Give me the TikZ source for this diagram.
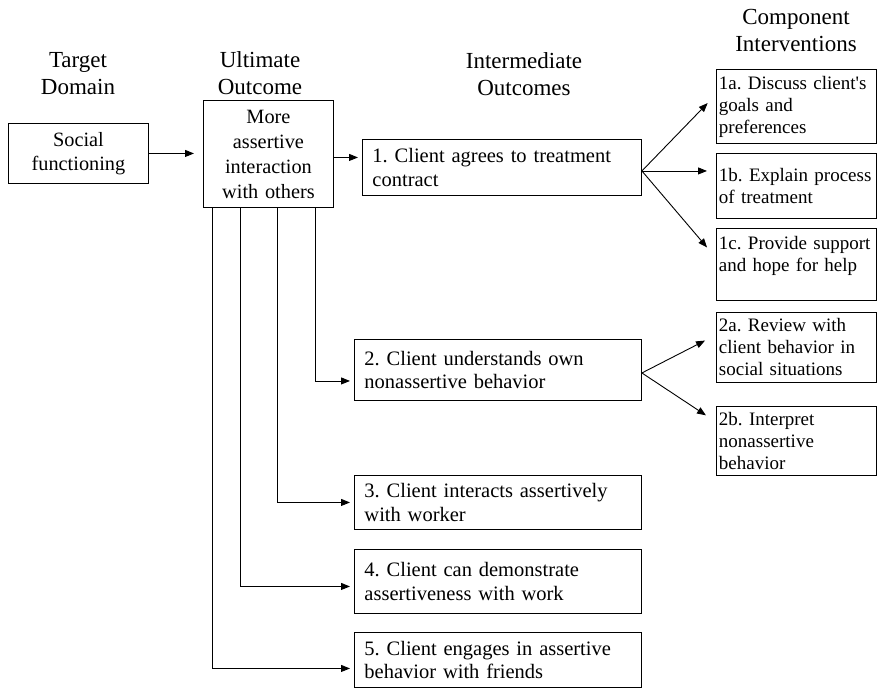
\documentclass[tikz,border=0pt]{standalone}
\usepackage{fontspec}
\setmainfont{Liberation Serif}
\usetikzlibrary{arrows.meta}
\frenchspacing
\begin{document}
\begin{tikzpicture}[x=1pt,y=-1pt,
  every node/.style={inner sep=0pt},
  heading/.style={align=center,font=\fontsize{23}{27}\selectfont},
  frame/.style={draw,line width=0.9pt,anchor=north west,inner ysep=2pt},
  outcome/.style={frame,align=left,inner xsep=10pt,font=\fontsize{20.5}{23.5}\selectfont},
  interv/.style={frame,align=left,inner xsep=2.5pt,text width=155pt,font=\fontsize{19}{22}\selectfont},
  link/.style={line width=0.9pt},
  arrow/.style={link,-{Triangle[length=9pt,width=7pt]},shorten >=4pt}
]
\useasboundingbox (0,0) rectangle (878,689);

% column headings
\node[heading] (hTarget) at (78,73.5) {Target\\Domain};
\node[heading] (hUlt) at (260,73.5) {Ultimate\\Outcome};
\node[heading] (hInter) at (524,74.5) {Intermediate\\Outcomes};
\node[heading] (hComp) at (796,30) {Component\\Interventions};

% target domain and ultimate outcome
\node[frame,align=center,text width=136pt,inner xsep=2pt,minimum height=60pt,
      font=\fontsize{20.3}{23.5}\selectfont] (soc) at (8,123) {Social\\functioning};
\node[frame,align=center,text width=126pt,inner xsep=2pt,minimum height=107pt,
      font=\fontsize{20.3}{25}\selectfont] (ult) at (203,100) {More\\assertive\\interaction\\with others};

% intermediate outcomes
\node[outcome,text width=259pt,minimum height=56pt] (i1) at (362,139)
  {1. Client agrees to treatment\\contract};
\node[outcome,text width=267pt,minimum height=61pt] (i2) at (354,339)
  {2. Client understands own\\nonassertive behavior};
\node[outcome,text width=267pt,minimum height=54pt] (i3) at (354,475)
  {3. Client interacts assertively\\with worker};
\node[outcome,text width=267pt,minimum height=64pt] (i4) at (354,549)
  {4. Client can demonstrate\\assertiveness with work};
\node[outcome,text width=267pt,minimum height=55pt] (i5) at (354,632)
  {5. Client engages in assertive\\behavior with friends};

% component interventions
\node[interv,minimum height=74pt] (c1a) at (716,69)
  {1a. Discuss client\textquotesingle s\\goals and\\preferences};
\node[interv,minimum height=65pt] (c1b) at (716,153)
  {1b. Explain process\\of treatment};
\node[interv,minimum height=72pt] (c1c) at (716,228)
  {1c. Provide support\\and hope for help\\\mbox{}};
\node[interv,minimum height=70pt] (c2a) at (716,312)
  {2a. Review with\\client behavior in\\social situations};
\node[interv,minimum height=69pt] (c2b) at (716,406)
  {2b. Interpret\\nonassertive\\behavior};

% connectors
\draw[arrow,shorten >=9pt] (soc.east) -- (soc.east -| ult.west);

\coordinate (u1) at ([yshift=-3.5pt]ult.east);
\draw[arrow] (u1) -- (u1 -| i1.west);

\draw[arrow] ([xshift=112pt]ult.south west) |- ([yshift=-11pt]i2.west);
\draw[arrow] ([xshift=74pt]ult.south west) |- (i3.west);
\draw[arrow] ([xshift=37pt]ult.south west) |- ([yshift=-5pt]i4.west);
\draw[arrow] ([xshift=9pt]ult.south west) |- ([yshift=-8.5pt]i5.west);

\coordinate (s1) at ([yshift=-3.5pt]i1.east);
\draw[arrow,shorten >=12pt] (s1) -- ([yshift=12pt]c1a.west);
\draw[arrow,shorten >=9pt] (s1) -- (s1 -| c1b.west);
\draw[arrow,shorten >=13.8pt] (s1) -- ([yshift=6.5pt]c1c.west);

\coordinate (s2) at ([yshift=-3pt]i2.east);
\draw[arrow,shorten >=12.3pt] (s2) -- ([yshift=12.5pt]c2a.west);
\draw[arrow,shorten >=12pt] (s2) -- ([yshift=19pt]c2b.west);
\end{tikzpicture}
\end{document}
